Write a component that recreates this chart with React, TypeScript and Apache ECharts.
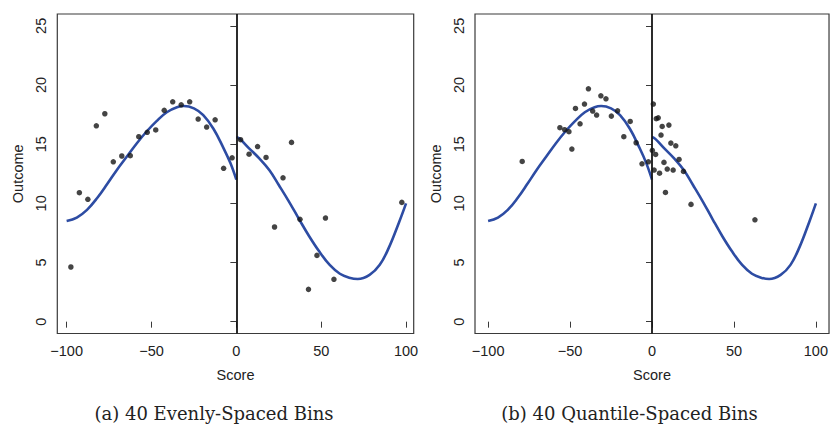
import React, { useEffect, useRef } from "react";
import * as echarts from "echarts";

// Panel (a): 40 evenly-spaced bins (bin means)
const binXA = [-97.5, -92.5, -87.5, -82.5, -77.5, -72.5, -67.5, -62.5, -57.5, -52.5, -47.5, -42.5, -37.5, -32.5, -27.5, -22.5, -17.5, -12.5, -7.5, -2.5, 2.5, 7.5, 12.5, 17.5, 22.5, 27.5, 32.5, 37.5, 42.5, 47.5, 52.5, 57.5, 97.5];
const binYA = [4.62, 10.9, 10.34, 16.55, 17.57, 13.51, 14.0, 14.03, 15.63, 16.0, 16.2, 17.86, 18.58, 18.33, 18.58, 17.12, 16.45, 17.06, 12.96, 13.85, 15.38, 14.15, 14.8, 13.88, 8.0, 12.16, 15.15, 8.65, 2.73, 5.6, 8.76, 3.58, 10.08];

// Panel (b): 40 quantile-spaced bins (bin means)
const binXB = [-79.2, -56.2, -53.3, -50.7, -48.9, -46.7, -43.9, -41.2, -38.8, -36.2, -33.8, -31.2, -28.1, -24.8, -21.0, -17.2, -13.3, -9.7, -6.1, -2.2, 0.2, 0.8, 1.3, 2.2, 2.6, 3.8, 4.6, 5.5, 6.2, 7.3, 8.2, 9.3, 10.3, 11.5, 12.9, 14.5, 16.5, 19.2, 23.8, 62.8];
const binYB = [13.54, 16.39, 16.22, 16.05, 14.59, 18.02, 16.72, 18.39, 19.68, 17.8, 17.46, 19.09, 18.83, 17.37, 17.82, 15.63, 16.92, 15.12, 13.34, 13.51, 14.47, 18.39, 12.81, 14.13, 17.15, 17.23, 12.55, 15.77, 16.5, 13.46, 10.92, 12.9, 16.61, 15.09, 12.81, 14.86, 13.71, 12.7, 9.91, 8.61];

// Fitted global polynomial, left and right of cutoff
const fitLeftX = [-100, -94, -88, -82, -76, -70.5, -64.5, -58.5, -53, -47, -41, -35, -31, -25, -19.5, -13.5, -7.5, -3.5, 0];
const fitLeftY = [8.5, 8.8, 9.45, 10.45, 11.65, 12.8, 13.95, 15.1, 16.05, 16.95, 17.7, 18.12, 18.22, 18.02, 17.45, 16.3, 14.65, 13.4, 12.0];
const fitRightX = [0, 2, 7.5, 13.5, 19.5, 25, 31, 37, 43, 49, 55, 61, 66.5, 71.5, 78.5, 84.5, 90, 96, 100];
const fitRightY = [15.6, 15.45, 14.65, 13.8, 12.8, 11.55, 10.15, 8.65, 7.2, 5.9, 4.8, 4.05, 3.72, 3.6, 3.95, 4.8, 6.3, 8.45, 10.0];

const xTicks = [-100, -50, 0, 50, 100];
const yTicks = [0, 5, 10, 15, 20, 25];
const captions = ["(a) 40 Evenly-Spaced Bins", "(b) 40 Quantile-Spaced Bins"];
const xTitle = "Score";
const yTitle = "Outcome";

const zip = (xs: number[], ys: number[]) => xs.map((x, i) => [x, ys[i]]);

const SANS = "'Liberation Sans', Arial, sans-serif";
const FRAME = "#3a3a3a";
const BLUE = "#2d4ca3";

export default function App() {
  const ref = useRef<HTMLDivElement>(null);
  useEffect(() => {
    if (!ref.current) return;
    const chart = echarts.init(ref.current, null, { renderer: "svg" });
    const grids = [
      { left: 57.3, top: 14, width: 356.4, height: 319.5 },
      { left: 475, top: 14, width: 356.4, height: 319.5 },
    ];
    const xRanges = [
      [-105.5, 104.5],
      [-108, 108],
    ];
    const mkX = (i: number) => ({
      type: "value",
      gridIndex: i,
      min: xRanges[i][0],
      max: xRanges[i][1],
      axisLine: { show: false },
      splitLine: { show: false },
      axisTick: { show: true, length: 6, customValues: xTicks, lineStyle: { color: FRAME, width: 1 } },
      axisLabel: {
        customValues: xTicks,
        margin: 10,
        fontFamily: SANS,
        fontSize: 14.5,
        color: "#222",
        formatter: (v: number) => String(v).replace("-", "\u2212"),
      },
      name: xTitle,
      nameLocation: "middle",
      nameGap: 34,
      nameTextStyle: { fontFamily: SANS, fontSize: 14.5, color: "#222" },
    });
    const mkY = (i: number) => ({
      type: "value",
      gridIndex: i,
      min: -1,
      max: 26,
      axisLine: { show: false },
      splitLine: { show: false },
      axisTick: { show: true, length: 6, customValues: yTicks, lineStyle: { color: FRAME, width: 1 } },
      axisLabel: {
        customValues: yTicks,
        rotate: 90,
        margin: 9,
        fontFamily: SANS,
        fontSize: 14.5,
        color: "#222",
      },
      name: yTitle,
      nameLocation: "middle",
      nameRotate: 90,
      nameGap: 32,
      nameTextStyle: { fontFamily: SANS, fontSize: 14.5, color: "#222" },
    });
    const panels = [
      { xs: binXA, ys: binYA },
      { xs: binXB, ys: binYB },
    ];
    const series: any[] = [];
    panels.forEach((p, i) => {
      series.push({
        type: "line",
        xAxisIndex: i,
        yAxisIndex: i,
        data: zip(fitLeftX, fitLeftY),
        smooth: 0.4,
        symbol: "none",
        lineStyle: { color: BLUE, width: 2.6 },
        z: 2,
      });
      series.push({
        type: "line",
        xAxisIndex: i,
        yAxisIndex: i,
        data: zip(fitRightX, fitRightY),
        smooth: 0.4,
        symbol: "none",
        lineStyle: { color: BLUE, width: 2.6 },
        z: 2,
      });
      series.push({
        type: "scatter",
        xAxisIndex: i,
        yAxisIndex: i,
        data: zip(p.xs, p.ys),
        symbol: "circle",
        symbolSize: 5.5,
        itemStyle: { color: "#151515" },
        z: 4,
        markLine: {
          silent: true,
          symbol: ["none", "none"],
          label: { show: false },
          lineStyle: { color: "#151515", width: 1.8, type: "solid" },
          data: [{ xAxis: 0 }],
          z: 3,
        },
      });
    });
    chart.setOption({
      animation: false,
      backgroundColor: "#ffffff",
      grid: grids.map((g) => ({ ...g, show: true, borderColor: FRAME, borderWidth: 1.2, backgroundColor: "transparent" })),
      xAxis: [mkX(0), mkX(1)],
      yAxis: [mkY(0), mkY(1)],
      series,
      graphic: captions.map((c, i) => ({
        type: "text",
        x: i === 0 ? 214 : 629.5,
        y: 413,
        style: {
          text: c,
          fontFamily: "'DejaVu Serif', serif",
          fontSize: 18,
          fill: "#222",
          textAlign: "center",
          textVerticalAlign: "middle",
        },
      })),
    });
    return () => chart.dispose();
  }, []);
  return (
    <div
      ref={ref}
      style={{ position: "absolute", left: 0, top: 0, width: 831, height: 424, background: "#fff" }}
    />
  );
}
